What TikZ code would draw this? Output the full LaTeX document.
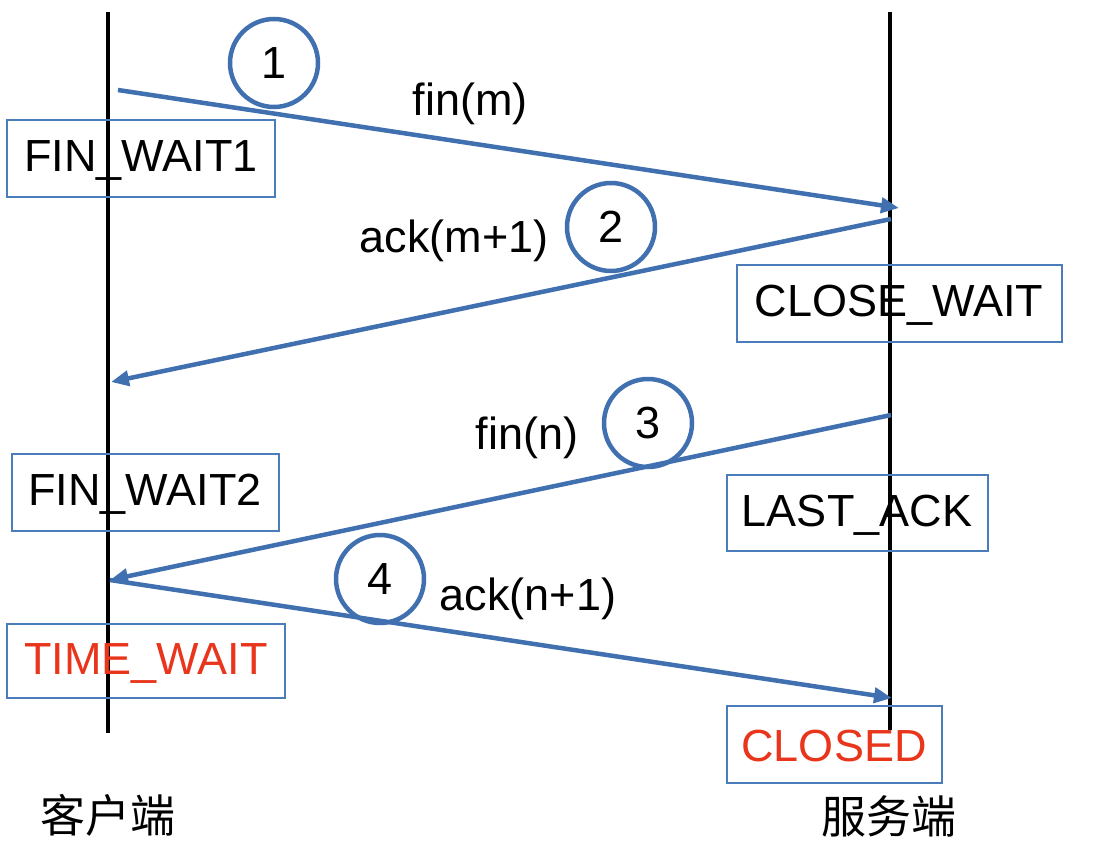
\documentclass[tikz,border=0pt]{standalone}
\usepackage{fontspec}
\setmainfont{Liberation Sans}
\newfontfamily\cjk{Noto Sans CJK SC}
\usetikzlibrary{arrows.meta}
\definecolor{lineblue}{HTML}{4070B0}
\definecolor{boxblue}{HTML}{4A7DBA}
\definecolor{stred}{HTML}{E8351C}
\begin{document}
\begin{tikzpicture}[x=1pt,y=-1pt,
  every node/.style={font=\fontsize{45}{50}\selectfont, inner sep=0pt},
  lifeline/.style={line width=4.5pt, black},
  statebox/.style={draw=boxblue, line width=2.2pt, anchor=north west},
  msg/.style={draw=lineblue, line width=4.5pt, -{Triangle[length=18pt,width=15pt]}},
  stepnum/.style={draw=lineblue, line width=4.5pt, circle, minimum size=88pt},
  lbl/.style={},
  endlabel/.style={font=\cjk\fontsize{45}{50}\selectfont}]
\useasboundingbox (0,0) rectangle (1103,843);
% lifelines
\coordinate (ctop) at (108,12);
\coordinate (cbot) at (108,733);
\coordinate (stop) at (890,12);
\coordinate (sbot) at (890,730);
\draw[lifeline] (ctop) -- (cbot);
\draw[lifeline] (stop) -- (sbot);
% state boxes
\draw[statebox] (7,120) rectangle (275,197);
\node (fw1) at (141,160) {FIN\_WAIT1};
\draw[statebox] (737,265) rectangle (1062,342);
\node (cw) at (899,305) {CLOSE\_WAIT};
\draw[statebox] (12,454) rectangle (279,531);
\node (fw2) at (145,494) {FIN\_WAIT2};
\draw[statebox] (727,475) rectangle (988,551);
\node (la) at (857,515) {LAST\_ACK};
\draw[statebox] (7,624) rectangle (285,698);
\node[text=stred] (tw) at (146,663) {TIME\_WAIT};
\draw[statebox] (727,706) rectangle (942,783);
\node[text=stred] (cl) at (834,746) {CLOSED};
% message endpoints
\coordinate (m1s) at (118,90);
\coordinate (m1e) at (899,208);
\coordinate (m2s) at (891,219);
\coordinate (m2e) at (111,382);
\coordinate (m3s) at (891,415);
\coordinate (m3e) at (110,580);
\coordinate (m4s) at (110,580);
\coordinate (m4e) at (892,698);
\draw[msg] (m1s) -- (m1e);
\draw[msg] (m2s) -- (m2e);
\draw[msg] (m3s) -- (m3e);
\draw[msg] (m4s) -- (m4e);
% step circles
\node[stepnum] (n1) at (274,63) {1};
\node[stepnum] (n2) at (611,227) {2};
\node[stepnum] (n3) at (648,423) {3};
\node[stepnum] (n4) at (380,579) {4};
% message labels
\node[lbl] (l1) at (470,104) {fin(m)};
\node[lbl] (l2) at (454,241) {ack(m+1)};
\node[lbl] (l3) at (527,438) {fin(n)};
\node[lbl] (l4) at (528,599) {ack(n+1)};
% end labels
\node[endlabel] (client) at (108,815) {客户端};
\node[endlabel] (server) at (889,816) {服务端};
\end{tikzpicture}
\end{document}
